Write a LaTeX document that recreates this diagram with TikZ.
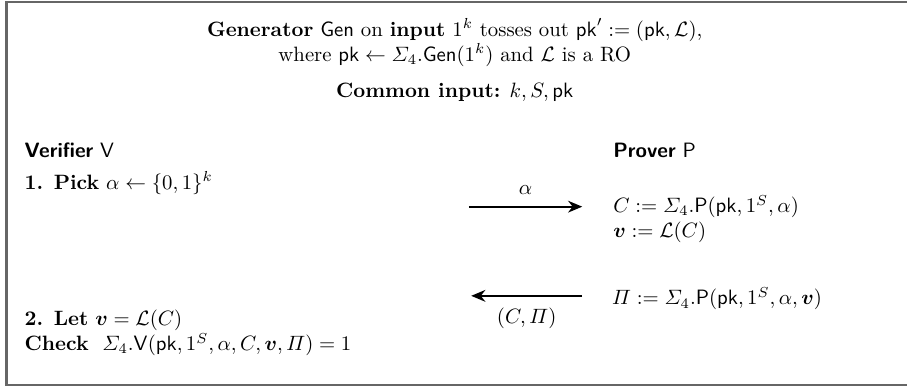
\documentclass[tikz,border=0pt]{standalone}
\usepackage{amsmath,amssymb}
\usetikzlibrary{arrows.meta}

\newcommand{\pk}{\mathsf{pk}}
\newcommand{\RO}{\mathcal{L}}

\begin{document}
\begin{tikzpicture}[
  txt/.style={inner sep=0pt, anchor=west, align=left},
  msg/.style={draw=black, line width=0.9pt, -{Stealth[length=2.4mm,width=2mm]}},
  frame/.style={draw=black!60, line width=1pt}
]
\useasboundingbox (0,0) rectangle (15.36,-6.55);
\draw[frame] (15.6,-0.03) -- (0.11,-0.03) -- (0.11,-6.52) -- (15.6,-6.52);
% header
\node[inner sep=0pt, align=center] (gen) at (7.70,-0.72)
  {\textbf{Generator} $\mathsf{Gen}$ on \textbf{input} $1^k$ tosses out $\pk' := (\pk,\RO)$,\\
   where $\pk \leftarrow \varSigma_4.\mathsf{Gen}(1^k)$ and $\RO$ is a RO};
\node[inner sep=0pt] (common) at (7.70,-1.56) {\textbf{Common input:} $k, S, \pk$};
% parties
\node[txt] (ver) at (0.41,-2.54) {\textsf{\textbf{Verifier}} $\mathsf{V}$};
\node[txt] (prv) at (10.38,-2.54) {\textsf{\textbf{Prover}} $\mathsf{P}$};
% round 1
\node[txt] (pick) at (0.41,-3.10) {\textbf{1. Pick} $\alpha \leftarrow \{0,1\}^k$};
\node[txt] (commit) at (10.38,-3.71)
  {$C := \varSigma_4.\mathsf{P}(\pk, 1^S, \alpha)$\\ $\boldsymbol{v} := \RO(C)$};
\coordinate (m1s) at (7.94,-3.50);
\coordinate (m1e) at (9.86,-3.50);
\draw[msg] (m1s) -- node[above=2pt] {$\alpha$} (m1e);
% round 2
\node[txt] (resp) at (10.36,-5.06) {$\varPi := \varSigma_4.\mathsf{P}(\pk, 1^S, \alpha, \boldsymbol{v})$};
\coordinate (m2s) at (9.86,-5.01);
\coordinate (m2e) at (7.98,-5.01);
\draw[msg] (m2s) -- node[below=2pt] {$(C,\varPi)$} (m2e);
\node[txt] (check) at (0.41,-5.64)
  {\textbf{2. Let} $\boldsymbol{v} = \RO(C)$\\
   \textbf{Check}\ \ $\varSigma_4.\mathsf{V}(\pk, 1^S, \alpha, C, \boldsymbol{v}, \varPi) = 1$};
\end{tikzpicture}
\end{document}
